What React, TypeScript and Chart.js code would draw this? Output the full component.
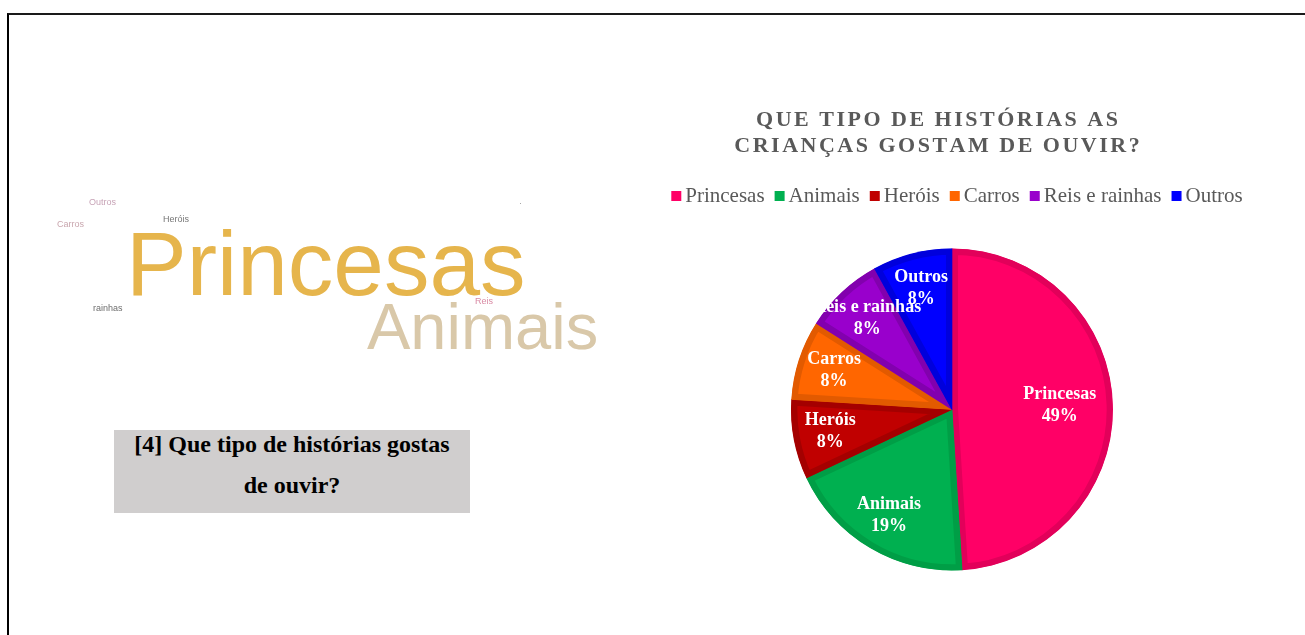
import React, { useEffect, useRef } from 'react';
import { Chart, registerables } from 'chart.js';

Chart.register(...registerables);

const categories = ['Princesas', 'Animais', 'Heróis', 'Carros', 'Reis e rainhas', 'Outros'];
const shares = [49, 19, 8, 8, 8, 8];
const titleLines = ['QUE TIPO DE HISTÓRIAS AS', 'CRIANÇAS GOSTAM DE OUVIR?'];
const fillColors = ['#FF0066', '#00B050', '#C00000', '#FF6600', '#9900CC', '#0000FF'];
const edgeColors = ['#E2005A', '#009E46', '#A40000', '#E25A00', '#8200AE', '#0000DC'];
const questionLines = ['[4] Que tipo de histórias gostas', 'de ouvir?'];

const SERIF = '"Liberation Serif", "Times New Roman", serif';
const SANS = '"Liberation Sans", Arial, sans-serif';

const titlePlugin = {
  id: 'spacedTitle',
  afterDraw(chart: any) {
    const ctx = chart.ctx;
    ctx.save();
    ctx.font = `bold 22px ${SERIF}`;
    ctx.fillStyle = '#595959';
    ctx.textBaseline = 'alphabetic';
    ctx.textAlign = 'left';
    const spacing = 2.5;
    const cx = (chart.chartArea.left + chart.chartArea.right) / 2 - 15;
    titleLines.forEach((line, i) => {
      const chars = Array.from(line);
      const widths = chars.map((c) => ctx.measureText(c).width);
      const total = widths.reduce((a, b) => a + b, 0) + spacing * (chars.length - 1);
      let x = cx - total / 2;
      const y = chart.chartArea.top - 90 + i * 26;
      chars.forEach((c, j) => {
        ctx.fillText(c, x, y);
        x += widths[j] + spacing;
      });
    });
    ctx.restore();
  },
};

const legendPlugin = {
  id: 'rowLegend',
  afterDraw(chart: any) {
    const ctx = chart.ctx;
    const labels: string[] = chart.data.labels;
    const colors: string[] = chart.data.datasets[0].backgroundColor;
    ctx.save();
    ctx.font = `21px ${SERIF}`;
    ctx.textBaseline = 'alphabetic';
    ctx.textAlign = 'left';
    const box = 10;
    const gapBox = 4;
    const gapItem = 10;
    const widths = labels.map((l) => ctx.measureText(l).width);
    const total =
      widths.reduce((a, b) => a + b, 0) + labels.length * (box + gapBox) + (labels.length - 1) * gapItem;
    let x = (chart.chartArea.left + chart.chartArea.right) / 2 + 5 - total / 2;
    const baseline = chart.chartArea.top - 14;
    labels.forEach((l, i) => {
      ctx.fillStyle = colors[i];
      ctx.fillRect(x, baseline - 11, box, box);
      x += box + gapBox;
      ctx.fillStyle = '#595959';
      ctx.fillText(l, x, baseline);
      x += widths[i] + gapItem;
    });
    ctx.restore();
  },
};

const labelPlugin = {
  id: 'sliceLabels',
  afterDatasetsDraw(chart: any) {
    const ctx = chart.ctx;
    const meta = chart.getDatasetMeta(0);
    const values: number[] = chart.data.datasets[0].data;
    const total = values.reduce((a, b) => a + b, 0);
    ctx.save();
    ctx.font = `bold 18px ${SERIF}`;
    ctx.fillStyle = '#FFFFFF';
    ctx.textAlign = 'center';
    ctx.textBaseline = 'middle';
    meta.data.forEach((arc: any, i: number) => {
      const p = arc.getProps(['startAngle', 'endAngle', 'outerRadius', 'x', 'y'], true);
      const mid = (p.startAngle + p.endAngle) / 2;
      const share = values[i] / total;
      const k = share > 0.4 ? 0.67 : 0.77;
      const lx = p.x + Math.cos(mid) * p.outerRadius * k;
      const ly = p.y + Math.sin(mid) * p.outerRadius * k;
      ctx.fillText(String(chart.data.labels[i]), lx, ly - 12);
      ctx.fillText(Math.round(share * 100) + '%', lx, ly + 10);
    });
    ctx.restore();
  },
};

function PieChart() {
  const ref = useRef<HTMLCanvasElement | null>(null);
  useEffect(() => {
    if (!ref.current) return;
    const chart = new Chart(ref.current, {
      type: 'pie',
      data: {
        labels: categories,
        datasets: [
          {
            data: shares,
            backgroundColor: fillColors,
            borderColor: edgeColors,
            borderWidth: 6,
            borderAlign: 'inner',
            radius: 161,
          } as any,
        ],
      },
      options: {
        responsive: false,
        animation: false,
        events: [],
        layout: { padding: { top: 126, bottom: 7, left: 0, right: 0 } },
        plugins: {
          title: { display: false },
          tooltip: { enabled: false },
          legend: { display: false },
        },
      } as any,
      plugins: [titlePlugin, legendPlugin, labelPlugin],
    });
    return () => chart.destroy();
  }, []);
  return (
    <canvas
      ref={ref}
      width={630}
      height={520}
      style={{ position: 'absolute', left: 637, top: 90, width: 630, height: 520 }}
    />
  );
}

function Word(props: { text: string; left: number; top: number; size: number; color: string }) {
  return (
    <div
      style={{
        position: 'absolute',
        left: props.left,
        top: props.top,
        fontFamily: SANS,
        fontSize: props.size,
        lineHeight: 1,
        color: props.color,
        whiteSpace: 'nowrap',
      }}
    >
      {props.text}
    </div>
  );
}

export default function App() {
  return (
    <div
      style={{
        position: 'absolute',
        left: 0,
        top: 0,
        width: 1305,
        height: 635,
        overflow: 'hidden',
        background: '#FFFFFF',
      }}
    >
      <div
        style={{
          position: 'absolute',
          left: 7,
          top: 13,
          width: 1400,
          height: 700,
          borderTop: '2px solid #1a1a1a',
          borderLeft: '2px solid #000000',
        }}
      />
      <div style={{ position: 'absolute', left: 0, top: 0, width: 640, height: 400, filter: 'blur(0.6px)' }}>
        <Word text="Outros" left={89} top={198} size={9} color="#C7A3B6" />
        <Word text="Carros" left={57} top={220} size={9} color="#C9A6AE" />
        <Word text="Heróis" left={163} top={215} size={9} color="#777777" />
        <Word text="rainhas" left={93} top={304} size={9} color="#6E6E6E" />
        <Word text="·" left={519} top={199} size={9} color="#9A9A9A" />
        <Word text="Princesas" left={126} top={218} size={91} color="#E6B54C" />
        <Word text="Animais" left={367} top={294} size={65} color="#D9C8A9" />
        <Word text="Reis" left={475} top={297} size={9} color="#D98AA4" />
      </div>
      <div
        style={{
          position: 'absolute',
          left: 114,
          top: 430,
          width: 356,
          height: 83,
          background: '#D0CECE',
        }}
      />
      <div
        style={{
          position: 'absolute',
          left: 114,
          top: 424,
          width: 356,
          textAlign: 'center',
          fontFamily: SERIF,
          fontWeight: 'bold',
          fontSize: 24,
          lineHeight: '41px',
          color: '#000000',
        }}
      >
        {questionLines.map((l) => (
          <div key={l}>{l}</div>
        ))}
      </div>
      <PieChart />
    </div>
  );
}
